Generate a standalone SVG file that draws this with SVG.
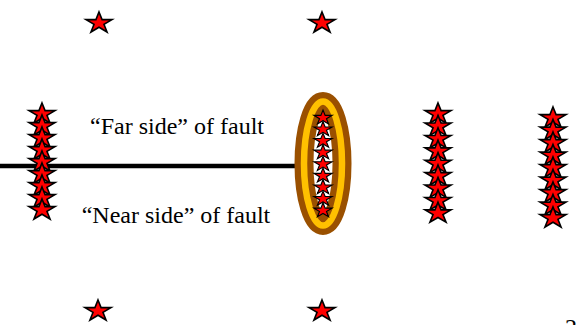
<svg xmlns="http://www.w3.org/2000/svg" xmlns:xlink="http://www.w3.org/1999/xlink" width="578" height="325" viewBox="0 0 578 325">
  <style>
    .star { fill: #ff0000; stroke: #000000; stroke-width: 1.6; stroke-linejoin: miter; }
    .label { font-family: "Liberation Serif", "Times New Roman", serif; font-size: 24px; fill: #000000; }
  </style>
  <defs>
    <polygon id="star" class="star" points="0,-10 3.07,-2.36 13,-2.36 4.96,2.37 8.04,10 0,5.28 -8.04,10 -4.96,2.37 -13,-2.36 -3.07,-2.36"/>
    <polygon id="star-small" class="star" transform="scale(0.7)" points="0,-10 3.07,-2.36 13,-2.36 4.96,2.37 8.04,10 0,5.28 -8.04,10 -4.96,2.37 -13,-2.36 -3.07,-2.36"/>
  </defs>
  <rect width="578" height="325" fill="#ffffff"/>

  <!-- fault trace -->
  <g id="connectors">
    <line x1="0" y1="166" x2="318" y2="166" stroke="#000000" stroke-width="4.5"/>
  </g>

  <!-- isolated stars above and below -->
  <g id="stars-top">
    <use xlink:href="#star" x="99" y="22"/>
    <use xlink:href="#star" x="322" y="22"/>
  </g>
  <g id="stars-bottom">
    <use xlink:href="#star" x="98" y="310"/>
    <use xlink:href="#star" x="322" y="310"/>
  </g>

  <!-- column crossing the fault -->
  <g id="column-left">
    <use xlink:href="#star" x="42" y="113"/>
    <use xlink:href="#star" x="42" y="125"/>
    <use xlink:href="#star" x="42" y="137"/>
    <use xlink:href="#star" x="42" y="149"/>
    <use xlink:href="#star" x="42" y="161"/>
    <use xlink:href="#star" x="42" y="173"/>
    <use xlink:href="#star" x="42" y="185"/>
    <use xlink:href="#star" x="42" y="197"/>
    <use xlink:href="#star" x="42" y="209"/>
  </g>

  <!-- highlighted column at the fault tip -->
  <g id="column-fault-tip">
    <ellipse cx="323" cy="163.5" rx="19" ry="62" fill="#ffffff" stroke="#9a5000" stroke-width="19"/>
    <ellipse cx="323" cy="163.5" rx="19" ry="62" fill="none" stroke="#ffc000" stroke-width="6.5"/>
    <use xlink:href="#star-small" x="323" y="117"/>
    <use xlink:href="#star-small" x="323" y="128.6"/>
    <use xlink:href="#star-small" x="323" y="140.2"/>
    <use xlink:href="#star-small" x="323" y="151.8"/>
    <use xlink:href="#star-small" x="323" y="163.4"/>
    <use xlink:href="#star-small" x="323" y="175"/>
    <use xlink:href="#star-small" x="323" y="186.6"/>
    <use xlink:href="#star-small" x="323" y="198.2"/>
    <use xlink:href="#star-small" x="323" y="209.8"/>
  </g>

  <g id="column-right-1">
    <use xlink:href="#star" x="438" y="113"/>
    <use xlink:href="#star" x="438" y="125.4"/>
    <use xlink:href="#star" x="438" y="137.8"/>
    <use xlink:href="#star" x="438" y="150.2"/>
    <use xlink:href="#star" x="438" y="162.6"/>
    <use xlink:href="#star" x="438" y="175"/>
    <use xlink:href="#star" x="438" y="187.4"/>
    <use xlink:href="#star" x="438" y="199.8"/>
    <use xlink:href="#star" x="438" y="212.2"/>
  </g>

  <g id="column-right-2">
    <use xlink:href="#star" x="553" y="117"/>
    <use xlink:href="#star" x="553" y="129.5"/>
    <use xlink:href="#star" x="553" y="142"/>
    <use xlink:href="#star" x="553" y="154.5"/>
    <use xlink:href="#star" x="553" y="167"/>
    <use xlink:href="#star" x="553" y="179.5"/>
    <use xlink:href="#star" x="553" y="192"/>
    <use xlink:href="#star" x="553" y="204.5"/>
    <use xlink:href="#star" x="553" y="217"/>
  </g>

  <!-- side labels -->
  <g id="label-far">
    <text class="label" x="177" y="134" text-anchor="middle">“Far side” of fault</text>
  </g>
  <g id="label-near">
    <text class="label" x="176" y="223" text-anchor="middle">“Near side” of fault</text>
  </g>

  <!-- page number -->
  <text class="label" x="565" y="335">2</text>
</svg>
